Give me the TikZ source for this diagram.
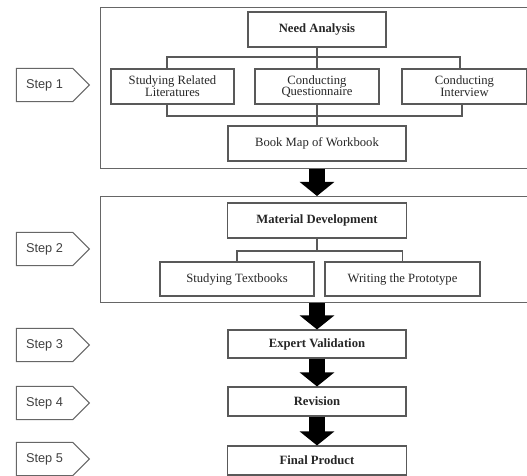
\documentclass[tikz,border=0pt]{standalone}
\usepackage{fontspec}
\setmainfont{Liberation Serif}
\setsansfont{Liberation Sans}
\usetikzlibrary{arrows.meta,shapes.symbols}

\begin{document}
\begin{tikzpicture}[x=0.03cm,y=-0.03cm,
  every node/.style={inner sep=1pt,font=\fontsize{10.8}{10}\selectfont,text=black!85},
  box/.style={draw=black!65,line width=0.9pt,align=center},
  frame/.style={draw=black!60,line width=1pt,anchor=north west,minimum width=13.2cm},
  fork/.style={draw=black!65,line width=0.9pt},
  stepsign/.style={signal,signal to=east,signal pointer angle=90,draw=black!60,line width=0.8pt,
    inner xsep=8.3pt,inner ysep=9.3pt,font=\sffamily\fontsize{10.9}{12}\selectfont,text=black!75},
  bigarrow/.style={line width=13.6pt,-{Triangle[length=12pt,width=29pt]}}]
\useasboundingbox(0,0)rectangle(527,476);
\clip(0,0)rectangle(527,476);
% step 1
\node[frame,minimum height=4.83cm](box1)at(100,7){};
\node[box,minimum width=4.14cm,minimum height=1.05cm](na)at(317,29.5){\bfseries Need Analysis};
\node[box,minimum width=3.69cm,minimum height=1.05cm](srl)at(172.5,86.5){Studying Related\\Literatures};
\node[box,minimum width=3.72cm,minimum height=1.05cm](cq)at(317,86.5){Conducting\\Questionnaire};
\node[box,minimum width=3.75cm,minimum height=1.05cm](ci)at(464.5,86.5){Conducting\\Interview};
\node[box,minimum width=5.34cm,minimum height=1.05cm](bm)at(317,143.5){Book Map of Workbook};
\coordinate(t1)at(317,57);
\coordinate(t2)at(317,116);
\draw[fork](na)--(cq)(cq)--(bm);
\draw[fork]([xshift=-0.165cm]srl.north)|-(t1)-|([xshift=-0.135cm]ci.north);
\draw[fork]([xshift=-0.165cm]srl.south)|-(t2)-|([xshift=-0.075cm]ci.south);
% step 2
\node[frame,minimum height=3.18cm](box2)at(100,196){};
\node[box,minimum width=5.37cm,minimum height=1.05cm](md)at(317,220.5){\bfseries Material Development};
\node[box,minimum width=4.62cm,minimum height=1.02cm](st)at(237,279){Studying Textbooks};
\node[box,minimum width=4.65cm,minimum height=1.02cm](wp)at(402.5,279){Writing the Prototype};
\coordinate(t3)at(317,251);
\draw[fork](md)--(t3);
\draw[fork](st.north)|-(t3)-|(wp.north);
% steps 3-5
\node[box,minimum width=5.34cm,minimum height=0.84cm](ev)at(317,344){\bfseries Expert Validation};
\node[box,minimum width=5.34cm,minimum height=0.87cm](rv)at(317,401.5){\bfseries Revision};
\node[box,minimum width=5.37cm,minimum height=0.87cm](fp)at(317,460.5){\bfseries Final Product};
% arrows
\draw[bigarrow](box1.south-|na)--(box2.north-|na);
\draw[bigarrow](box2.south-|ev)--(ev.north);
\draw[bigarrow](ev)--(rv);
\draw[bigarrow](rv)--(fp);
% step labels
\foreach \n/\y in {1/85,2/249,3/345,4/403,5/459}
  \node[stepsign](s\n)at(44.5,\y){Step \n};
\end{tikzpicture}
\end{document}
